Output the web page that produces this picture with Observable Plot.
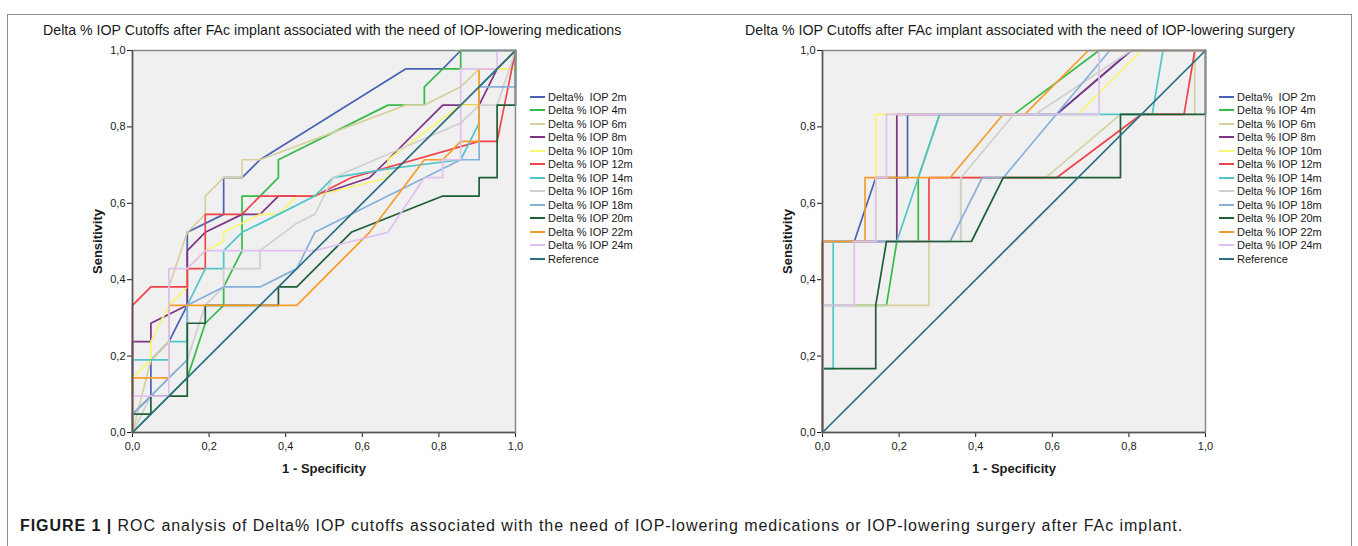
<!DOCTYPE html>
<html>
<head>
<meta charset="utf-8">
<script src="https://cdn.jsdelivr.net/npm/d3@7"></script>
<script src="https://cdn.jsdelivr.net/npm/@observablehq/plot@0.6"></script>
<style>
  body { margin: 0; background: #fff; font-family: "Liberation Sans", Arial, sans-serif; }
  #page { position: relative; width: 1358px; height: 546px; overflow: hidden; background: #fff; }
  #border { position: absolute; left: 7px; top: 14px; width: 1343px; height: 600px; border: 1px solid #8c8c8c; }
  .title { position: absolute; top: 22px; font-size: 14.2px; color: #1a1a1a; white-space: nowrap; }
  .chart { position: absolute; top: 0; }
  .chart svg { max-width: none !important; }
  .legend { position: absolute; font-size: 11px; color: #1a1a1a; }
  .legend .row { height: 13.5px; display: flex; align-items: center; white-space: pre; }
  .legend .sw { width: 15px; height: 0; border-top: 2.5px solid; margin-right: 3px; }
  #caption { position: absolute; left: 20px; top: 517px; font-size: 16px; letter-spacing: 0.95px; color: #1a1a1a; white-space: nowrap; }
  svg g[aria-label="x-axis label"] text, svg g[aria-label="y-axis label"] text { font-weight: bold; font-size: 13px; }
</style>
</head>
<body>
<div id="page">
  <div id="border"></div>
  <div class="title" id="t1" style="left:43px"></div>
  <div class="title" id="t2" style="left:745px"></div>
  <div class="chart" id="c1" style="left:0px"></div>
  <div class="chart" id="c2" style="left:690px"></div>
  <div class="legend" id="l1" style="left:530px; top:90px"></div>
  <div class="legend" id="l2" style="left:1219px; top:90px"></div>
  <div id="caption"></div>
</div>
<script>
// ---- texts ----
const titleMed = "Delta % IOP Cutoffs after FAc implant associated with the need of IOP-lowering medications";
const titleSur = "Delta % IOP Cutoffs after FAc implant associated with the need of IOP-lowering surgery";
const captionBold = "FIGURE 1 |";
const captionText = " ROC analysis of Delta% IOP cutoffs associated with the need of IOP-lowering medications or IOP-lowering surgery after FAc implant.";
const xLabel = "1 - Specificity";
const yLabel = "Sensitivity";
const tickValues = [0, 0.2, 0.4, 0.6, 0.8, 1.0];

// ---- series ----
const seriesNames = ["Delta%  IOP 2m", "Delta % IOP 4m", "Delta % IOP 6m", "Delta % IOP 8m",
  "Delta % IOP 10m", "Delta % IOP 12m", "Delta % IOP 14m", "Delta % IOP 16m",
  "Delta % IOP 18m", "Delta % IOP 20m", "Delta % IOP 22m", "Delta % IOP 24m", "Reference"];
const seriesColors = ["#4a62b4", "#35bb4a", "#d6d19e", "#7f3384", "#f9f570", "#f0434a",
  "#52c5c8", "#cfcfcf", "#85b0da", "#1e5e38", "#f89c2c", "#dfc0f0", "#2b6f84"];

// ---- left chart: IOP-lowering medications (1 - specificity, sensitivity) ----
const med2m  = [[0,0],[0,0.048],[0.048,0.095],[0.048,0.19],[0.095,0.238],[0.143,0.333],[0.143,0.524],[0.238,0.571],[0.238,0.667],[0.286,0.667],[0.333,0.714],[0.714,0.952],[0.81,0.952],[0.857,1],[1,1]];
const med4m  = [[0,0],[0.048,0.048],[0.143,0.143],[0.19,0.286],[0.238,0.333],[0.238,0.381],[0.286,0.476],[0.286,0.619],[0.333,0.619],[0.381,0.667],[0.381,0.714],[0.667,0.857],[0.762,0.857],[0.762,0.905],[0.81,0.952],[0.857,0.952],[0.857,1],[1,1]];
const med6m  = [[0,0],[0.048,0.19],[0.095,0.238],[0.095,0.381],[0.143,0.524],[0.19,0.571],[0.19,0.619],[0.238,0.667],[0.286,0.667],[0.286,0.714],[0.333,0.714],[0.714,0.857],[0.762,0.857],[0.857,0.905],[0.905,0.952],[1,0.952],[1,1]];
const med8m  = [[0,0],[0,0.238],[0.048,0.238],[0.048,0.286],[0.143,0.333],[0.143,0.476],[0.19,0.524],[0.286,0.571],[0.333,0.571],[0.381,0.619],[0.476,0.619],[0.619,0.667],[0.667,0.714],[0.81,0.857],[0.905,0.857],[0.952,0.952],[1,1]];
const med10m = [[0,0],[0,0.143],[0.048,0.19],[0.048,0.238],[0.095,0.333],[0.143,0.381],[0.143,0.429],[0.19,0.476],[0.238,0.5],[0.238,0.524],[0.333,0.571],[0.381,0.571],[0.429,0.619],[0.476,0.619],[0.667,0.667],[0.667,0.714],[0.857,0.857],[0.905,0.857],[0.905,0.952],[1,0.952],[1,1]];
const med12m = [[0,0],[0,0.333],[0.048,0.381],[0.143,0.381],[0.143,0.429],[0.19,0.429],[0.19,0.571],[0.286,0.571],[0.333,0.619],[0.476,0.619],[0.571,0.667],[0.905,0.762],[0.952,0.762],[1,1]];
const med14m = [[0,0],[0,0.19],[0.095,0.19],[0.095,0.238],[0.143,0.238],[0.143,0.333],[0.19,0.429],[0.238,0.429],[0.238,0.476],[0.286,0.524],[0.381,0.571],[0.476,0.619],[0.524,0.667],[0.667,0.69],[0.857,0.714],[0.905,0.81],[0.905,0.905],[0.952,0.952],[1,1]];
const med16m = [[0,0],[0.048,0.095],[0.095,0.143],[0.143,0.19],[0.19,0.333],[0.238,0.381],[0.238,0.429],[0.333,0.429],[0.333,0.476],[0.429,0.548],[0.476,0.571],[0.524,0.667],[0.857,0.81],[0.905,0.857],[0.952,0.857],[1,1]];
const med18m = [[0,0],[0,0.048],[0.048,0.095],[0.095,0.143],[0.143,0.19],[0.143,0.333],[0.238,0.381],[0.333,0.381],[0.429,0.429],[0.476,0.524],[0.857,0.714],[0.905,0.714],[0.905,0.905],[1,0.905],[1,1]];
const med20m = [[0,0],[0,0.048],[0.048,0.048],[0.048,0.095],[0.143,0.095],[0.143,0.286],[0.19,0.286],[0.19,0.333],[0.381,0.333],[0.381,0.381],[0.429,0.381],[0.571,0.524],[0.81,0.619],[0.905,0.619],[0.905,0.667],[0.952,0.667],[0.952,0.857],[1,0.857],[1,1]];
const med22m = [[0,0],[0,0.143],[0.095,0.143],[0.095,0.333],[0.429,0.333],[0.619,0.524],[0.762,0.714],[0.81,0.714],[0.857,0.762],[0.905,0.762],[0.905,0.952],[0.952,0.952],[1,1]];
const med24m = [[0,0],[0,0.095],[0.095,0.095],[0.095,0.429],[0.143,0.429],[0.19,0.476],[0.476,0.476],[0.571,0.5],[0.667,0.524],[0.762,0.667],[0.81,0.667],[0.81,0.714],[0.857,0.714],[0.857,0.952],[0.952,0.952],[0.952,1],[1,1]];
const reference = [[0,0],[1,1]];

// ---- right chart: IOP-lowering surgery ----
const sur2m  = [[0,0],[0,0.5],[0.083,0.5],[0.139,0.667],[0.222,0.667],[0.222,0.833],[0.611,0.833],[0.806,1],[1,1]];
const sur4m  = [[0,0],[0,0.333],[0.167,0.333],[0.194,0.5],[0.25,0.5],[0.25,0.667],[0.306,0.833],[0.5,0.833],[0.722,1],[1,1]];
const sur6m  = [[0,0],[0,0.333],[0.278,0.333],[0.278,0.5],[0.361,0.5],[0.361,0.667],[0.583,0.667],[0.778,0.833],[0.972,0.833],[0.972,1],[1,1]];
const sur8m  = [[0,0],[0,0.5],[0.194,0.5],[0.194,0.833],[0.611,0.833],[0.806,1],[1,1]];
const sur10m = [[0,0],[0,0.5],[0.139,0.5],[0.139,0.833],[0.667,0.833],[0.833,1],[1,1]];
const sur12m = [[0,0],[0,0.5],[0.278,0.5],[0.278,0.667],[0.611,0.667],[0.833,0.833],[0.944,0.833],[0.972,1],[1,1]];
const sur14m = [[0,0],[0,0.167],[0.028,0.167],[0.028,0.5],[0.194,0.5],[0.25,0.667],[0.306,0.833],[0.861,0.833],[0.889,1],[1,1]];
const sur16m = [[0,0],[0,0.5],[0.361,0.5],[0.361,0.667],[0.5,0.833],[0.556,0.833],[0.806,1],[1,1]];
const sur18m = [[0,0],[0,0.5],[0.333,0.5],[0.417,0.667],[0.472,0.667],[0.75,1],[1,1]];
const sur20m = [[0,0],[0,0.167],[0.139,0.167],[0.139,0.333],[0.167,0.5],[0.389,0.5],[0.472,0.667],[0.778,0.667],[0.778,0.833],[1,0.833],[1,1]];
const sur22m = [[0,0],[0,0.5],[0.111,0.5],[0.111,0.667],[0.333,0.667],[0.472,0.833],[0.528,0.833],[0.694,1],[1,1]];
const sur24m = [[0,0],[0,0.333],[0.083,0.333],[0.083,0.5],[0.139,0.5],[0.139,0.667],[0.167,0.667],[0.167,0.833],[0.722,0.833],[0.722,1],[1,1]];

const medCurves = [med2m, med4m, med6m, med8m, med10m, med12m, med14m, med16m, med18m, med20m, med22m, med24m, reference];
const surCurves = [sur2m, sur4m, sur6m, sur8m, sur10m, sur12m, sur14m, sur16m, sur18m, sur20m, sur22m, sur24m, reference];

const fmt = d => d.toFixed(1).replace(".", ",");

function makeChart(curves, width, marginRight) {
  const rows = [];
  curves.forEach((pts, i) => pts.forEach(([x, y]) => rows.push({series: seriesNames[i], x, y})));
  return Plot.plot({
    width, height: 500,
    marginLeft: 132, marginRight, marginTop: 50, marginBottom: 68,
    style: {fontFamily: "Liberation Sans, Arial, sans-serif", fontSize: "11px", color: "#1a1a1a", background: "transparent", maxWidth: "none"},
    x: {domain: [0, 1], ticks: tickValues, tickFormat: fmt, tickSize: 5, tickPadding: 5,
        label: xLabel, labelAnchor: "center", labelOffset: 40, labelArrow: false},
    y: {domain: [0, 1], ticks: tickValues, tickFormat: fmt, tickSize: 5, tickPadding: 2,
        label: yLabel, labelAnchor: "center", labelOffset: 40, labelArrow: false},
    color: {domain: seriesNames, range: seriesColors},
    marks: [
      Plot.frame({fill: "#f0f0f0"}),
      Plot.line(rows, {x: "x", y: "y", z: "series", stroke: "series", strokeWidth: 1.7}),
      Plot.frame({stroke: "#8a8a8a", strokeWidth: 1.5}),
      Plot.ruleX([0], {stroke: "#555", strokeWidth: 1.5}),
      Plot.ruleY([0], {stroke: "#555", strokeWidth: 1.5})
    ]
  });
}

function makeLegend(el) {
  seriesNames.forEach((name, i) => {
    const row = document.createElement("div");
    row.className = "row";
    const sw = document.createElement("span");
    sw.className = "sw";
    sw.style.borderTopColor = seriesColors[i];
    const t = document.createElement("span");
    t.textContent = name;
    row.appendChild(sw); row.appendChild(t);
    el.appendChild(row);
  });
}

document.getElementById("t1").textContent = titleMed;
document.getElementById("t2").textContent = titleSur;
document.getElementById("c1").appendChild(makeChart(medCurves, 680, 165));
document.getElementById("c2").appendChild(makeChart(surCurves, 660, 145));
makeLegend(document.getElementById("l1"));
makeLegend(document.getElementById("l2"));
const cap = document.getElementById("caption");
const b = document.createElement("b"); b.textContent = captionBold;
cap.appendChild(b);
cap.appendChild(document.createTextNode(captionText));
</script>
</body>
</html>
